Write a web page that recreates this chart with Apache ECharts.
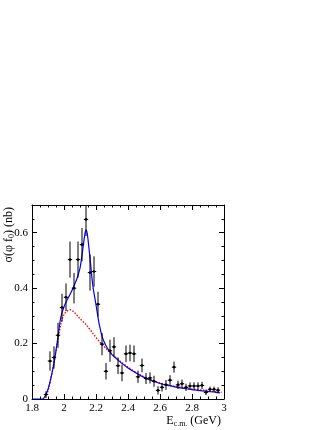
<!DOCTYPE html>
<html>
<head>
<meta charset="utf-8">
<script src="https://cdn.jsdelivr.net/npm/echarts@6/dist/echarts.min.js"></script>
<style>
  html, body { margin: 0; padding: 0; background: #fff; }
  #chart { width: 332px; height: 430px; }
</style>
</head>
<body>
<div id="chart"></div>
<script>
// data points (E in GeV, cross section in nb)
var energy = [1.8875, 1.9125, 1.9375, 1.9625, 1.9875, 2.0125, 2.0375, 2.0625, 2.0875, 2.1125,
  2.1375, 2.1625, 2.1875, 2.2125, 2.2375, 2.2625, 2.2875, 2.3125, 2.3375, 2.3625,
  2.3875, 2.4125, 2.4375, 2.4625, 2.4875, 2.5125, 2.5375, 2.5625, 2.5875, 2.6125,
  2.6375, 2.6625, 2.6875, 2.7125, 2.7375, 2.7625, 2.7875, 2.8125, 2.8375, 2.8625,
  2.8875, 2.9125, 2.9375, 2.9625];
var xsec = [0.016, 0.137, 0.150, 0.230, 0.330, 0.367, 0.503, 0.400, 0.503, 0.557,
  0.648, 0.456, 0.460, 0.342, 0.198, 0.100, 0.174, 0.188, 0.120, 0.094,
  0.163, 0.166, 0.163, 0.080, 0.121, 0.074, 0.076, 0.064, 0.031, 0.042,
  0.051, 0.068, 0.115, 0.051, 0.055, 0.042, 0.047, 0.047, 0.047, 0.049,
  0.024, 0.035, 0.035, 0.032];
var xsecErr = [0.012, 0.035, 0.040, 0.045, 0.050, 0.050, 0.065, 0.055, 0.065, 0.060,
  0.060, 0.065, 0.055, 0.045, 0.040, 0.030, 0.040, 0.035, 0.030, 0.030,
  0.030, 0.030, 0.030, 0.022, 0.025, 0.020, 0.020, 0.020, 0.015, 0.015,
  0.018, 0.018, 0.020, 0.015, 0.015, 0.013, 0.013, 0.013, 0.013, 0.013,
  0.010, 0.010, 0.010, 0.010];

// total fit (blue)
var fitE = [1.80, 1.865, 1.88, 1.90, 1.92, 1.94, 1.96, 1.98, 2.00, 2.02, 2.04, 2.06, 2.08, 2.10,
  2.115, 2.128, 2.137, 2.145, 2.155, 2.165, 2.18, 2.20, 2.22, 2.24, 2.26, 2.28, 2.30,
  2.35, 2.40, 2.45, 2.50, 2.55, 2.60, 2.65, 2.70, 2.75, 2.80, 2.85, 2.90, 2.95, 2.975];
var fitTotal = [0, 0, 0.008, 0.035, 0.080, 0.138, 0.215, 0.295, 0.333, 0.358, 0.380, 0.405, 0.433, 0.472,
  0.530, 0.585, 0.610, 0.598, 0.550, 0.495, 0.410, 0.340, 0.270, 0.222, 0.195, 0.176, 0.160,
  0.134, 0.112, 0.094, 0.078, 0.066, 0.056, 0.049, 0.043, 0.038, 0.034, 0.030, 0.027, 0.024, 0.022];

// background-like component (red dotted)
var bgE = [1.88, 1.90, 1.92, 1.94, 1.96, 1.98, 2.00, 2.02, 2.04, 2.06, 2.08, 2.10, 2.14, 2.18,
  2.22, 2.26, 2.30, 2.35, 2.40, 2.45, 2.50, 2.55, 2.60, 2.65, 2.70, 2.75, 2.80, 2.85,
  2.90, 2.95, 2.985];
var bgFit = [0.005, 0.030, 0.080, 0.140, 0.205, 0.270, 0.305, 0.318, 0.322, 0.315, 0.303, 0.290, 0.267, 0.237,
  0.208, 0.184, 0.162, 0.137, 0.115, 0.096, 0.080, 0.068, 0.058, 0.050, 0.045, 0.040, 0.036, 0.033,
  0.030, 0.026, 0.024];

var yMajor = [0, 0.2, 0.4, 0.6];
var yMinor = [0.05, 0.1, 0.15, 0.25, 0.3, 0.35, 0.45, 0.5, 0.55, 0.65];

var pts = energy.map(function (e, i) { return [e, xsec[i], xsecErr[i]]; });
var total = fitE.map(function (e, i) { return [e, fitTotal[i]]; });
var bg = bgE.map(function (e, i) { return [e, bgFit[i]]; });

var serif = 'Liberation Serif, Times New Roman, serif';
var chart = echarts.init(document.getElementById('chart'));

function xAx(pos, labels) {
  return {
    type: 'value', position: pos, min: 1.8, max: 3.0, interval: 0.2,
    axisLine: { show: true, onZero: false, lineStyle: { color: '#000', width: 1 } },
    axisTick: { show: true, inside: true, length: 5, lineStyle: { color: '#000' } },
    minorTick: { show: true, splitNumber: 4, length: 2.5, lineStyle: { color: '#000' } },
    axisLabel: {
      show: labels, color: '#000', fontFamily: serif, fontSize: 11, margin: 4,
      formatter: function (v) { return String(Math.round(v * 10) / 10); }
    },
    splitLine: { show: false }
  };
}
function yAx(pos, ticks, len, labels, line) {
  return {
    type: 'value', position: pos, min: 0, max: 0.7,
    axisLine: { show: line, onZero: false, lineStyle: { color: '#000', width: 1 } },
    axisTick: { show: true, inside: true, length: len, customValues: ticks, lineStyle: { color: '#000' } },
    axisLabel: {
      show: labels, customValues: yMajor, color: '#000', fontFamily: serif, fontSize: 11, margin: 4,
      formatter: function (v) { return String(Math.round(v * 10) / 10); }
    },
    splitLine: { show: false }
  };
}

function renderPoint(params, api) {
  var c = api.coord([api.value(0), api.value(1)]);
  var hi = api.coord([api.value(0), api.value(1) + api.value(2)]);
  var lo = api.coord([api.value(0), api.value(1) - api.value(2)]);
  var st = { stroke: '#000', lineWidth: 1 };
  return {
    type: 'group',
    children: [
      { type: 'line', shape: { x1: c[0], y1: hi[1], x2: c[0], y2: lo[1] }, style: st },
      { type: 'line', shape: { x1: c[0] - 2.2, y1: c[1], x2: c[0] + 2.2, y2: c[1] }, style: st },
      { type: 'circle', shape: { cx: c[0], cy: c[1], r: 1.3 }, style: { fill: '#000' } }
    ]
  };
}

var option = {
  animation: false,
  backgroundColor: '#fff',
  grid: { left: 32, right: 108, top: 205, bottom: 31, containLabel: false },
  xAxis: [xAx('bottom', true), xAx('top', false)],
  yAxis: [
    yAx('left', yMajor, 5, true, true),
    yAx('left', yMinor, 2.5, false, false),
    yAx('right', yMajor, 5, false, true),
    yAx('right', yMinor, 2.5, false, false)
  ],
  series: [
    {
      type: 'line', data: bg, xAxisIndex: 0, yAxisIndex: 0, showSymbol: false, smooth: 0.3,
      lineStyle: { color: '#ff0000', width: 1.4, type: [1.5, 1.5] }, z: 2
    },
    {
      type: 'line', data: total, xAxisIndex: 0, yAxisIndex: 0, showSymbol: false, smooth: 0.3,
      lineStyle: { color: '#0000ff', width: 1.2 }, z: 3
    },
    {
      type: 'custom', data: pts, xAxisIndex: 0, yAxisIndex: 0, renderItem: renderPoint,
      clip: true, z: 4
    }
  ],
  graphic: [
    {
      type: 'text', x: 221, y: 421,
      style: {
        text: '{a|E}{b|c.m.}{a| (GeV)}', align: 'right', verticalAlign: 'middle',
        rich: {
          a: { fontFamily: serif, fontSize: 12, fill: '#000', lineHeight: 14 },
          b: { fontFamily: serif, fontSize: 8, fill: '#000', lineHeight: 14, padding: [6, 0, 0, 0] }
        }
      }
    },
    {
      type: 'text', x: 9, y: 207, rotation: Math.PI / 2,
      style: {
        text: '{a|σ(φ f}{b|0}{a|) (nb)}', align: 'right', verticalAlign: 'middle',
        rich: {
          a: { fontFamily: serif, fontSize: 12, fill: '#000', lineHeight: 14 },
          b: { fontFamily: serif, fontSize: 8, fill: '#000', lineHeight: 14, padding: [6, 0, 0, 0] }
        }
      }
    }
  ]
};
chart.setOption(option);
</script>
</body>
</html>
